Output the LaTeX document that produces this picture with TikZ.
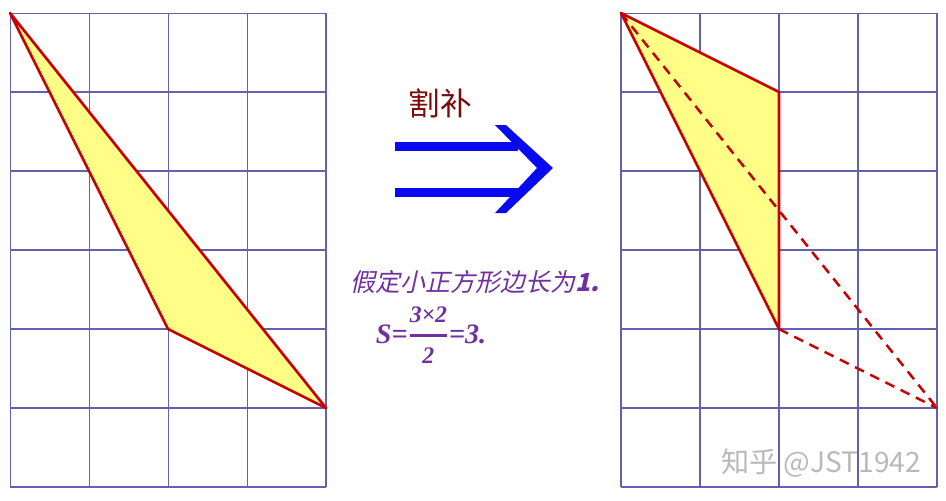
\documentclass[tikz,border=0pt]{standalone}
\usepackage{amsmath}
\usepackage{fontspec}
\setmainfont{Liberation Serif}
\newfontfamily\cjk{Noto Sans CJK SC}
\newfontfamily\cjkit[FakeSlant=0.22]{Noto Sans CJK SC}
\usetikzlibrary{positioning,calc}
\definecolor{gridblue}{HTML}{6262AC}
\definecolor{edgered}{HTML}{C80000}
\definecolor{areayellow}{HTML}{FFFF88}
\definecolor{arrowblue}{HTML}{0A0AF0}
\definecolor{titlered}{HTML}{7A0A0A}
\definecolor{notepurple}{HTML}{7030A0}

\begin{document}
\begin{tikzpicture}[x=1.58cm,y=1.58cm,
	gridline/.style={gridblue, line width=0.6pt, step=1.58cm},
	area/.style={fill=areayellow},
	edge/.style={edgered, line width=1.5pt, line join=round},
	dashedge/.style={edgered, line width=1.4pt, dash pattern=on 0.2cm off 0.14cm},
	note/.style={notepurple, inner sep=0pt}]
				\useasboundingbox (-0.127,-0.165) rectangle (11.848,6.165);
				\draw[gridline] (0,0) grid (4,6);
				\draw[gridline, xshift=7.734*1.58cm] (0,0) grid (4,6);
				\coordinate (a) at (0,6);
				\coordinate (b) at (2,2);
				\coordinate (c) at (4,1);
				\fill[area] (a) -- (b) -- (c) -- cycle;
				\draw[edge] (a) -- (b) -- (c) -- cycle;
				\begin{scope}[xshift=7.734*1.58cm]
				\coordinate (p) at (0,6);
				\coordinate (q) at (2,5);
				\coordinate (r) at (2,2);
				\coordinate (s) at (4,1);
				\fill[area] (p) -- (q) -- (r) -- cycle;
				\draw[edge] (p) -- (q) -- (r) -- cycle;
				\draw[dashedge] (p) -- (s);
				\draw[dashedge] (r) -- (s);
				\end{scope}
				\fill[arrowblue] (4.873,4.259) rectangle (6.43,4.373);
				\fill[arrowblue] (4.873,3.677) rectangle (6.43,3.791);
				\fill[arrowblue] (6.139,4.582) -- (6.278,4.582) -- (6.873,4.038) -- (6.278,3.468) -- (6.139,3.468) -- (6.671,4.038) -- cycle;
				\node[titlered] (title) at (5.443,4.861) {\cjk\fontsize{18}{20}\selectfont 割补};
				\node[note] (rule) at (5.886,2.595) {\cjkit\fontsize{14.2}{16}\selectfont 假定小正方形边长为\textbf{\textit{1.}}};
				\node[note] (area) at (5.33,1.92) {\fontsize{16}{18}\selectfont\bfseries\itshape S=$\genfrac{}{}{1.3pt}{0}{\mbox{\fontsize{13.5}{14}\selectfont\bfseries\itshape 3×2}}{\mbox{\fontsize{13.5}{14}\selectfont\bfseries\itshape 2}}$=3.};
				\node[gray!55] (mark) at (10.266,0.304) {\cjk\fontsize{16}{18}\selectfont 知乎 @JST1942};
\end{tikzpicture}
\end{document}
